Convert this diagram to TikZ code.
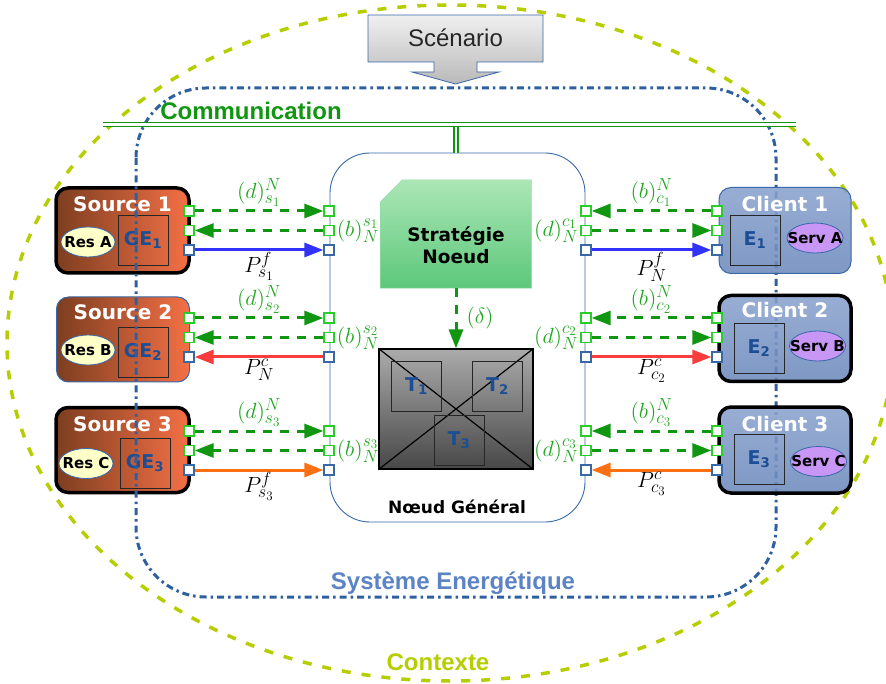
\documentclass[tikz,border=0pt]{standalone}
\usepackage{fontspec}
\setmainfont{DejaVu Sans}
\newfontfamily\libsans{Liberation Sans}
\DeclareFontShape{OML}{cmm}{m}{it}{<-9>cmmi7<9-11>cmmi10<11->cmmi12}{\skewchar\font=127}
\DeclareFontShape{OMS}{cmsy}{m}{n}{<-9>cmsy7<9->cmsy10}{\skewchar\font=48}
\DeclareFontShape{OT1}{cmr}{m}{n}{<-9>cmr7<9-11>cmr10<11->cmr12}{}
\DeclareMathSizes{22}{22}{17.5}{13}
\usetikzlibrary{arrows.meta,shapes.geometric,positioning}

\definecolor{steel}{RGB}{56,104,168}
\definecolor{flowgreen}{RGB}{16,150,16}
\definecolor{portgreen}{RGB}{40,205,40}
\definecolor{labgreen}{RGB}{30,165,30}
\definecolor{ctxgreen}{RGB}{182,206,0}
\definecolor{sysblue}{RGB}{46,96,160}
\definecolor{systext}{RGB}{92,132,196}
\definecolor{pblue}{RGB}{50,50,250}
\definecolor{pred}{RGB}{250,60,60}
\definecolor{porange}{RGB}{252,112,20}
\definecolor{srcdark}{RGB}{125,62,32}
\definecolor{srclight}{RGB}{244,112,70}
\definecolor{clitop}{RGB}{138,162,205}
\definecolor{clibot}{RGB}{108,138,188}
\definecolor{resfill}{RGB}{255,255,200}
\definecolor{servfill}{RGB}{200,150,245}
\definecolor{stratop}{RGB}{172,230,182}
\definecolor{strabot}{RGB}{92,200,122}
\definecolor{idblue}{RGB}{28,78,150}

\newcommand{\fsz}[2]{\fontsize{#1}{#2}\selectfont}

\begin{document}
\begin{tikzpicture}[x=1pt, y=-1pt,
  port/.style={draw, fill=white, line width=1.3pt, minimum size=10pt, inner sep=0pt},
  gport/.style={port, draw=portgreen},
  bport/.style={port, draw=steel},
  gflow/.style={draw=flowgreen, line width=3pt, dash pattern=on 9pt off 8pt, -{Triangle[length=19pt,width=14pt]}},
  pflow/.style={line width=3pt, -{Triangle[length=19pt,width=14pt]}},
  lab/.style={text=labgreen, inner sep=1pt, font=\fsz{22}{26}},
  plab/.style={text=black, inner sep=0.5pt, font=\fsz{22}{26}},
  src/.style={rounded corners=12pt, left color=srcdark, right color=srclight, minimum width=133pt, minimum height=85pt},
  cli/.style={rounded corners=12pt, top color=clitop, bottom color=clibot, fill opacity=0.88, minimum width=132pt, minimum height=86pt},
  rimthin/.style={draw=steel, line width=1pt},
  rimthick/.style={draw=black, line width=3.5pt},
  boxtitle/.style={text=white, font=\bfseries\fsz{20}{24}, anchor=base},
  res/.style={ellipse, draw=steel, line width=0.8pt, fill=resfill, minimum width=54pt, minimum height=30pt, inner sep=0pt},
  serv/.style={res, fill=servfill, minimum width=56pt},
  reslab/.style={font=\bfseries\fsz{15}{18}, inner sep=0pt},
  gen/.style={draw=black!85, line width=0.8pt, minimum size=50pt, inner sep=0pt, text=idblue, font=\bfseries\fsz{19}{22}},
  comm/.style={draw=flowgreen, double=white, double distance=2.2pt, line width=1.8pt},
  bigtxt/.style={font=\libsans\bfseries\fsz{24}{28}, anchor=base}]

  \useasboundingbox (0,0) rectangle (886,684);

  % contexte
  \draw[ctxgreen, line width=3.5pt, dash pattern=on 9pt off 11pt] (450,343) ellipse [x radius=443pt, y radius=338pt];
  \node[bigtxt, text=ctxgreen] (ctx) at (438,670) {Contexte};

  % scenario
  \shadedraw[top color=gray!12, bottom color=gray!55, draw=steel, line width=0.8pt]
    (368,15) -- (543,15) -- (543,62) -- (477,62) -- (477,72) -- (499,72) -- (455.5,84)
    -- (412,72) -- (434,72) -- (434,62) -- (368,62) -- cycle;
  \node[font=\libsans\fsz{24}{28}, text=black!85, anchor=base] (scen) at (455.5,47) {Scénario};

  % sources
  \node[src, rimthick] (src1) at (122.5,230.5) {};
  \node[src, rimthin] (src2) at (123,339.5) {};
  \node[src, rimthick] (src3) at (122.5,450) {};
  \node[boxtitle] (src1t) at (122.5,212) {Source 1};
  \node[boxtitle] (src2t) at (123,320) {Source 2};
  \node[boxtitle] (src3t) at (122.5,431) {Source 3};
  \node[res, label={[reslab]center:Res A}] (resA) at (88,242) {};
  \node[res, label={[reslab]center:Res B}] (resB) at (88,350) {};
  \node[res, label={[reslab]center:Res C}] (resC) at (86,463.5) {};
  \node[gen] (ge1) at (143,240) {GE\textsubscript{1}};
  \node[gen] (ge2) at (143,352) {GE\textsubscript{2}};
  \node[gen] (ge3) at (145,463) {GE\textsubscript{3}};

  % systeme energetique
  \draw[sysblue, line width=3pt, dash pattern=on 7pt off 4pt on 2.5pt off 4pt, rounded corners=70pt] (136,88) rectangle (776,597);
  \node[bigtxt, text=systext] (sys) at (453,589) {Système Energétique};

  % communication
  \coordinate (busw) at (103,124.5);
  \coordinate (buse) at (796,124.5);
  \coordinate (busj) at (456,127.5);
  \draw[comm] (busw) -- (buse);
  \node[bigtxt, text=flowgreen] (comm) at (251,120) {Communication};

  % noeud general
  \node[draw=steel, line width=0.9pt, fill=white, rounded corners=40pt, minimum width=255pt, minimum height=369pt] (ng) at (457.5,337.5) {};
  \draw[comm] (busj) -- (busj |- ng.north);
  \node[font=\bfseries\fsz{17}{20}, anchor=base] (ngt) at (457,513) {Nœud Général};

  \node[minimum width=151pt, minimum height=108pt, inner sep=0pt] (strat) at (456,234) {};
  \shadedraw[draw=stratop!70!strabot, top color=stratop, bottom color=strabot]
    ([yshift=-22pt]strat.north west) -- ([xshift=22pt]strat.north west) -- (strat.north east)
    -- (strat.south east) -- (strat.south west) -- cycle;
  \node[font=\bfseries\fsz{18.5}{22}, align=center] (stratt) at (456,245) {Stratégie\\Noeud};

  \node[draw=black, line width=1.2pt, top color=black!33, bottom color=black!72, minimum width=154pt, minimum height=120pt] (trf) at (456,409) {};
  \draw[line width=1.2pt] (trf.north west) -- (trf.south east) (trf.north east) -- (trf.south west);
  \node[gen] (t1) at (416.5,386) {T\textsubscript{1}};
  \node[gen] (t2) at (497.5,386) {T\textsubscript{2}};
  \node[gen] (t3) at (459,440) {T\textsubscript{3}};
  \draw[gflow] (strat) -- node[lab, right=8pt] {$(\delta)$} (trf);

  % clients
  \node[cli, rimthin] (cli1) at (785,230.5) {};
  \node[cli, rimthick] (cli2) at (785,338.5) {};
  \node[cli, rimthick] (cli3) at (785,450) {};
  \node[boxtitle] (cli1t) at (785,212) {Client 1};
  \node[boxtitle] (cli2t) at (785,318) {Client 2};
  \node[boxtitle] (cli3t) at (785,431) {Client 3};
  \node[gen] (e1) at (755,240) {E\textsubscript{1}};
  \node[gen] (e2) at (759,348) {E\textsubscript{2}};
  \node[gen] (e3) at (759,459) {E\textsubscript{3}};
  \node[serv, label={[reslab]center:Serv A}] (servA) at (815,238) {};
  \node[serv, label={[reslab]center:Serv B}] (servB) at (817.5,346) {};
  \node[serv, label={[reslab]center:Serv C}] (servC) at (818.5,461.5) {};

  % ports et flux
  \foreach \n/\y in {1/211,2/318,3/431} {
    \node[gport] (sd\n) at (189,\y) {};
    \node[gport] (sb\n) at (189,\y+19.5) {};
    \node[bport] (sp\n) at (189,\y+39) {};
    \node[gport] (ld\n) at (329,\y) {};
    \node[gport] (lb\n) at (329,\y+19.5) {};
    \node[bport] (lp\n) at (329,\y+39) {};
    \node[gport] (rb\n) at (586,\y) {};
    \node[gport] (rd\n) at (586,\y+19.5) {};
    \node[bport] (rp\n) at (586,\y+39) {};
    \node[gport] (cb\n) at (717,\y) {};
    \node[gport] (cd\n) at (717,\y+19.5) {};
    \node[bport] (cp\n) at (717,\y+39) {};
    \draw[gflow] (sd\n) -- node[lab, above=2pt] {$(d)^N_{s_\n}$} (ld\n);
    \draw[gflow] (lb\n) -- (sb\n);
    \node[lab, right=1pt of lb\n] (lbl\n) {$(b)^{s_\n}_N$};
    \draw[gflow] (cb\n) -- node[lab, above=2pt] {$(b)^N_{c_\n}$} (rb\n);
    \draw[gflow] (rd\n) -- (cd\n);
    \node[lab, left=1pt of rd\n] (rdl\n) {$(d)^{c_\n}_N$};
  }

  \draw[pflow, pblue] (sp1) -- node[plab, below=0pt] {$P^f_{s_1}$} (lp1);
  \draw[pflow, pred] (lp2) -- node[plab, below=0pt] {$P^c_N$} (sp2);
  \draw[pflow, porange] (sp3) -- node[plab, below=0pt] {$P^f_{s_3}$} (lp3);
  \draw[pflow, pblue] (rp1) -- node[plab, below=0pt] {$P^f_N$} (cp1);
  \draw[pflow, pred] (rp2) -- node[plab, below=0pt] {$P^c_{c_2}$} (cp2);
  \draw[pflow, porange] (cp3) -- node[plab, below=0pt] {$P^c_{c_3}$} (rp3);
\end{tikzpicture}
\end{document}
